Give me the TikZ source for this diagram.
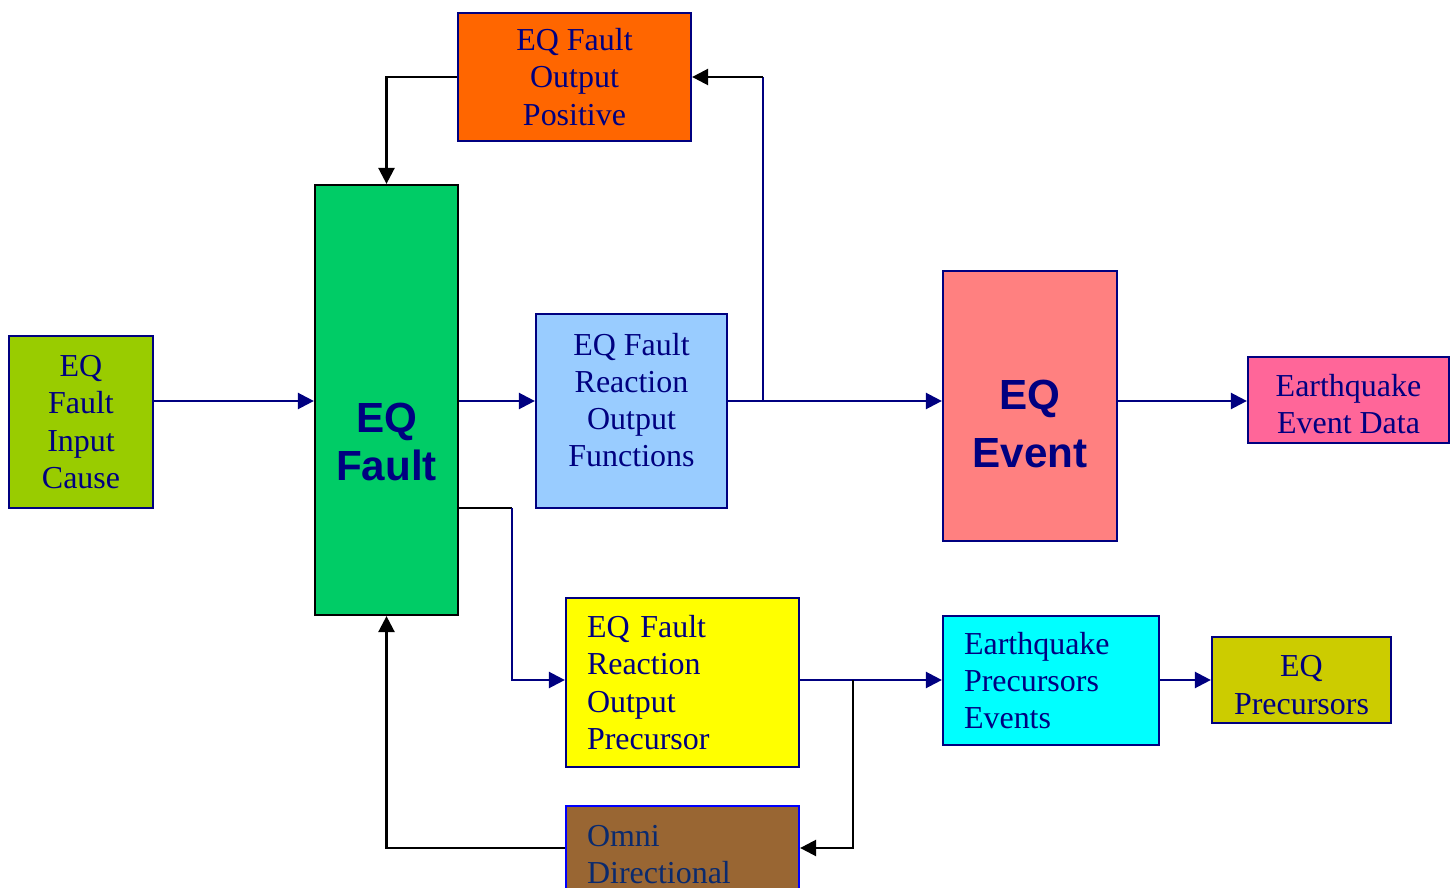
\documentclass[tikz,border=0pt]{standalone}
\usepackage{fontspec}
\setmainfont{Liberation Serif}
\setsansfont{Liberation Sans}
\usepackage{tikz}
\usetikzlibrary{arrows.meta,positioning,calc}

\definecolor{navyblue}{HTML}{000080}
\definecolor{omnitext}{HTML}{0A2A6E}
\definecolor{inputgreen}{HTML}{99CC00}
\definecolor{faultgreen}{HTML}{00CC66}
\definecolor{posorange}{HTML}{FF6600}
\definecolor{funcblue}{HTML}{99CCFF}
\definecolor{eventred}{HTML}{FF8080}
\definecolor{datapink}{HTML}{FF6699}
\definecolor{precyellow}{HTML}{FFFF00}
\definecolor{evcyan}{HTML}{00FFFF}
\definecolor{precolive}{HTML}{CCCC00}
\definecolor{omnibrown}{HTML}{996633}

\begin{document}
\begin{tikzpicture}[
		x=0.02cm,y=-0.02cm,
		font=\fontsize{18.2}{21.2}\selectfont,
		box/.style={draw=navyblue,line width=1.3pt,text=navyblue,align=center,inner sep=0pt},
		leftbox/.style={box,align=left,inner xsep=0.42cm},
		plaintext/.style={text=navyblue,align=center},
		bigtext/.style={text=navyblue,align=center,font=\sffamily\bfseries\fontsize{24}{27.4}\selectfont},
		flow/.style={-{Triangle[length=0.32cm,width=0.32cm]},line width=1.4pt,draw=navyblue},
		flowline/.style={line width=1.4pt,draw=navyblue},
		back/.style={-{Triangle[length=0.32cm,width=0.32cm]},line width=1.4pt,draw=black},
		backline/.style={line width=1.4pt,draw=black}]
		\useasboundingbox (0,0) rectangle (1454,888);
		\clip (0,0) rectangle (1454,888);
		
		% Draw boxes
		\node (input) [box,fill=inputgreen,minimum width=2.88cm,minimum height=3.44cm] at (81,422) {EQ\\Fault\\Input\\Cause};
		\node (fault) [box,draw=black,fill=faultgreen,minimum width=2.86cm,minimum height=8.6cm] at (386.5,400) {};
		\node (faulttxt) [bigtext] at (386.5,442) {EQ\\Fault};
		\node (positive) [box,fill=posorange,minimum width=4.66cm,minimum height=2.56cm] at (574.5,77) {EQ Fault\\Output\\Positive};
		\node (functions) [box,fill=funcblue,minimum width=3.82cm,minimum height=3.88cm] at (631.5,411) {};
		\node (functionstxt) [plaintext] at (631.5,400) {EQ Fault\\Reaction\\Output\\Functions};
		\node (event) [box,fill=eventred,minimum width=3.48cm,minimum height=5.4cm] at (1030,406) {};
		\node (eventtxt) [bigtext,font=\sffamily\bfseries\fontsize{24}{32.5}\selectfont] at (1030,424) {EQ\\Event};
		\node (data) [box,fill=datapink,minimum width=4.02cm,minimum height=1.72cm] at (1348.5,400) {};
		\node (datatxt) [plaintext] at (1348.5,404) {Earthquake\\Event Data};
		\node (precursor) [leftbox,fill=precyellow,text width=3.82cm,minimum height=3.38cm] at (682.5,682.5) {EQ Fault\\Reaction\\Output\\Precursor};
		\node (events) [leftbox,fill=evcyan,text width=3.48cm,minimum height=2.58cm] at (1051,680.5) {Earthquake\\Precursors\\Events};
		\node (eqprec) [box,fill=precolive,minimum width=3.58cm,minimum height=1.72cm] at (1301.5,680) {};
		\node (eqprectxt) [plaintext] at (1301.5,685) {EQ\\Precursors};
		\node (omni) [leftbox,draw=blue,text=omnitext,fill=omnibrown,text width=3.82cm,minimum height=1.94cm,anchor=north] at (682.5,805) {Omni\\Directional};
		
		% Draw connectors
		\coordinate (toprow) at (0,401);
		\coordinate (lowrow) at (0,680);
		\coordinate (omnirow) at (0,848);
		\coordinate (tap1) at (763,401);
		\coordinate (tap2) at (512,508);
		\coordinate (tap3) at (853,680);
		
		\draw[flow] (input.east |- toprow) -- (fault.west |- toprow);
		\draw[flow] (fault.east |- toprow) -- (functions.west |- toprow);
		\draw[flow] (functions.east |- toprow) -- (event.west |- toprow);
		\draw[flow] (event.east |- toprow) -- (data.west |- toprow);
		\draw[flowline] (tap1) -- (tap1 |- positive.east);
		\draw[back] (tap1 |- positive.east) -- (positive.east);
		\draw[back] (positive.west) -| (fault.north);
		
		\draw[backline] (fault.east |- tap2) -- (tap2);
		\draw[flow] (tap2) |- (precursor.west |- lowrow);
		\draw[flow] (precursor.east |- lowrow) -- (events.west |- lowrow);
		\draw[flow] (events.east |- lowrow) -- (eqprec.west |- lowrow);
		\draw[back] (tap3) |- (omni.east |- omnirow);
		\draw[back] (omni.west |- omnirow) -| (fault.south);
		
\end{tikzpicture}
\end{document}
